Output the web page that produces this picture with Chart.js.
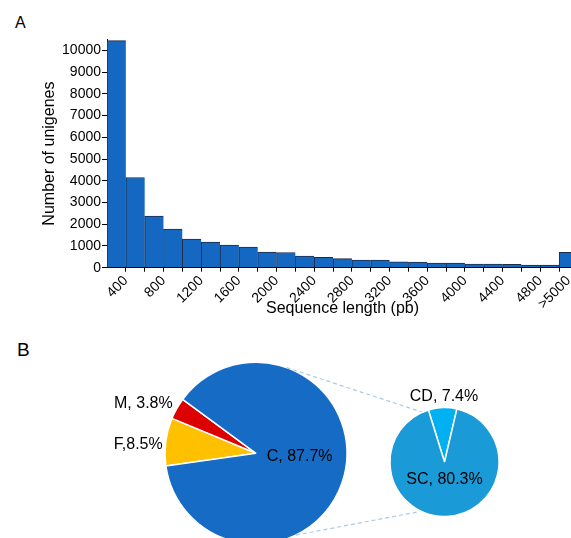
<!DOCTYPE html>
<html>
<head>
<meta charset="utf-8">
<title>Unigene length distribution</title>
<script src="https://cdn.jsdelivr.net/npm/chart.js@4/dist/chart.umd.min.js"></script>
<style>
  html, body { margin: 0; padding: 0; background: #fff; overflow: hidden; width: 571px; height: 538px; }
  body { position: relative; font-family: 'Liberation Sans', Arial, sans-serif; }
  .panel { position: absolute; color: #000; line-height: 1; }
  canvas { position: absolute; left: 0; }
</style>
</head>
<body>
<div class="panel" style="left:15px; top:14.5px; font-size:16px;">A</div>
<div class="panel" style="left:17px; top:340px; font-size:19px;">B</div>
<canvas id="hist" width="600" height="320" style="top:0; width:600px; height:320px;"></canvas>
<canvas id="bigPie" width="571" height="230" style="top:330px; width:571px; height:230px;"></canvas>
<canvas id="smallPie" width="571" height="230" style="top:330px; width:571px; height:230px;"></canvas>
<script>
// ---- Panel A: unigene length histogram (200 bp bins, last bin open-ended) ----
const lengthBins = [200, 400, 600, 800, 1000, 1200, 1400, 1600, 1800, 2000, 2200, 2400,
                    2600, 2800, 3000, 3200, 3400, 3600, 3800, 4000, 4200, 4400, 4600, 4800, 5000];
const unigeneCounts = [10450, 4150, 2370, 1780, 1320, 1180, 1045, 950, 720, 700, 540, 480,
                       415, 355, 350, 265, 260, 215, 210, 170, 165, 160, 120, 120, 710];
const lengthTickLabels = ['400', '800', '1200', '1600', '2000', '2400', '2800', '3200',
                          '3600', '4000', '4400', '4800', '>5000'];
const countTickLabels = ['0', '1000', '2000', '3000', '4000', '5000', '6000', '7000', '8000', '9000', '10000'];

// ---- Panel B: pie of classes and the breakdown of class C ----
const classNames = ['F', 'M', 'C'];
const classShares = [8.5, 3.8, 87.7];
const classSeparators = [',', ', ', ', '];
const subNames = ['CD', 'SC'];
const subShares = [7.4, 80.3];
const subSeparators = [', ', ', '];

const BIN = 200;
const openBinCenter = lengthBins[lengthBins.length - 1] + BIN / 2;

Chart.defaults.font.family = "'Liberation Sans', Arial, sans-serif";
Chart.defaults.color = '#000';

// Tick positions: every bin edge gets a tick mark; labelled edges come from lengthTickLabels,
// the open-ended bin is labelled at its centre.
const xLabelAt = new Map();
lengthTickLabels.forEach(t => {
  const v = t.startsWith('>') ? openBinCenter : Number(t);
  xLabelAt.set(v, t);
});
const xTickValues = lengthBins.slice(1).concat([openBinCenter]);

const yMax = 10500;
const yTickValues = [];
for (let v = 0; v <= yMax; v += 500) yTickValues.push(v);
const yLabelAt = new Map(countTickLabels.map(t => [Number(t), t]));

new Chart(document.getElementById('hist'), {
  type: 'bar',
  data: {
    datasets: [{
      data: lengthBins.map((start, i) => ({ x: start + BIN / 2, y: unigeneCounts[i] })),
      backgroundColor: '#1568c2',
      borderColor: '#1b2c48',
      borderWidth: { top: 1, left: 1, right: 0, bottom: 0 },
      barThickness: 'flex',
      barPercentage: 1,
      categoryPercentage: 1
    }]
  },
  options: {
    responsive: false,
    animation: false,
    devicePixelRatio: 1,
    layout: { padding: { left: 0, right: 22, top: 39.5, bottom: 0 } },
    plugins: { legend: { display: false }, tooltip: { enabled: false } },
    scales: {
      x: {
        type: 'linear',
        offset: false,
        min: lengthBins[0],
        max: lengthBins[lengthBins.length - 1] + BIN,
        afterBuildTicks: s => { s.ticks = xTickValues.map(v => ({ value: v })); },
        afterFit: s => { s.height = 52.3; },
        ticks: {
          autoSkip: false, minRotation: 45, maxRotation: 45, padding: 1,
          font: { size: 14 },
          callback: v => xLabelAt.get(v) ?? ''
        },
        grid: {
          offset: false, drawOnChartArea: false, tickLength: 4, lineWidth: 1,
          color: c => (c.tick && c.tick.value === openBinCenter) ? 'rgba(0,0,0,0)' : '#000'
        },
        border: { color: '#000', width: 1 },
        title: { display: true, text: 'Sequence length (pb)', font: { size: 16 }, padding: { top: 0, bottom: 2 } }
      },
      y: {
        min: 0,
        max: yMax,
        afterBuildTicks: s => { s.ticks = yTickValues.map(v => ({ value: v })); },
        afterFit: s => { s.width = 107; },
        ticks: { padding: 1, font: { size: 14 }, callback: v => yLabelAt.get(v) ?? '' },
        grid: { drawOnChartArea: false, tickLength: 5, color: '#000', lineWidth: 1 },
        border: { color: '#000', width: 1 },
        title: { display: true, text: 'Number of unigenes', font: { size: 16 }, padding: { top: 40.4, bottom: 0 } }
      }
    }
  }
});

// Text labels placed relative to the pie centre
const sliceLabels = {
  id: 'sliceLabels',
  afterDatasetsDraw(chart, args, opts) {
    const arc = chart.getDatasetMeta(0).data[0];
    const ctx = chart.ctx;
    ctx.save();
    ctx.font = "16px 'Liberation Sans', Arial, sans-serif";
    ctx.fillStyle = '#000';
    ctx.textBaseline = 'middle';
    opts.places.forEach((p, i) => {
      ctx.textAlign = p.align;
      ctx.fillText(opts.text[i], arc.x + p.dx, arc.y + p.dy);
    });
    ctx.restore();
  }
};

const pct = v => v.toFixed(1) + '%';

const bigChart = new Chart(document.getElementById('bigPie'), {
  type: 'pie',
  data: {
    labels: classNames,
    datasets: [{
      data: classShares,
      backgroundColor: ['#ffc000', '#dc0000', '#166cc4'],
      borderColor: '#ffffff',
      borderWidth: 1.5,
      rotation: 262,
      radius: 91
    }]
  },
  options: {
    responsive: false,
    animation: false,
    devicePixelRatio: 1,
    layout: { padding: { left: 156, right: 215, top: 23.3, bottom: 6.7 } },
    plugins: {
      legend: { display: false },
      tooltip: { enabled: false },
      sliceLabels: {
        text: classNames.map((n, i) => n + classSeparators[i] + pct(classShares[i])),
        places: [
          { dx: -93.3, dy: -8.3, align: 'right' },
          { dx: -83.3, dy: -49.3, align: 'right' },
          { dx: 10.7, dy: 3, align: 'left' }
        ]
      }
    }
  },
  plugins: [sliceLabels]
});

// Dashed guide lines joining slice C to its breakdown pie
const connectors = {
  id: 'connectors',
  beforeDatasetsDraw(chart, args, opts) {
    const big = bigChart.getDatasetMeta(0).data[0];
    const small = chart.getDatasetMeta(0).data[0];
    const ctx = chart.ctx;
    const rad = d => d * Math.PI / 180;
    ctx.save();
    ctx.strokeStyle = '#a9cbe8';
    ctx.lineWidth = 1.2;
    ctx.setLineDash([4, 3]);
    opts.pairs.forEach(p => {
      ctx.beginPath();
      ctx.moveTo(big.x + big.outerRadius * Math.cos(rad(p.from)), big.y + big.outerRadius * Math.sin(rad(p.from)));
      ctx.lineTo(small.x + small.outerRadius * Math.cos(rad(p.to)), small.y + small.outerRadius * Math.sin(rad(p.to)));
      ctx.stroke();
    });
    ctx.restore();
  }
};

new Chart(document.getElementById('smallPie'), {
  type: 'pie',
  data: {
    labels: subNames,
    datasets: [{
      data: subShares,
      backgroundColor: ['#00b0f0', '#1a9ad6'],
      borderColor: '#ffffff',
      borderWidth: 1.5,
      rotation: -17.2,
      radius: 54.5
    }]
  },
  options: {
    responsive: false,
    animation: false,
    devicePixelRatio: 1,
    layout: { padding: { left: 384.5, right: 66.5, top: 72, bottom: 38 } },
    plugins: {
      legend: { display: false },
      tooltip: { enabled: false },
      connectors: { pairs: [{ from: -70.4, to: -114 }, { from: 64, to: 115.3 }] },
      sliceLabels: {
        text: subNames.map((n, i) => n + subSeparators[i] + pct(subShares[i])),
        places: [
          { dx: -0.5, dy: -65, align: 'center' },
          { dx: 0, dy: 18, align: 'center' }
        ]
      }
    }
  },
  plugins: [connectors, sliceLabels]
});
</script>
</body>
</html>
